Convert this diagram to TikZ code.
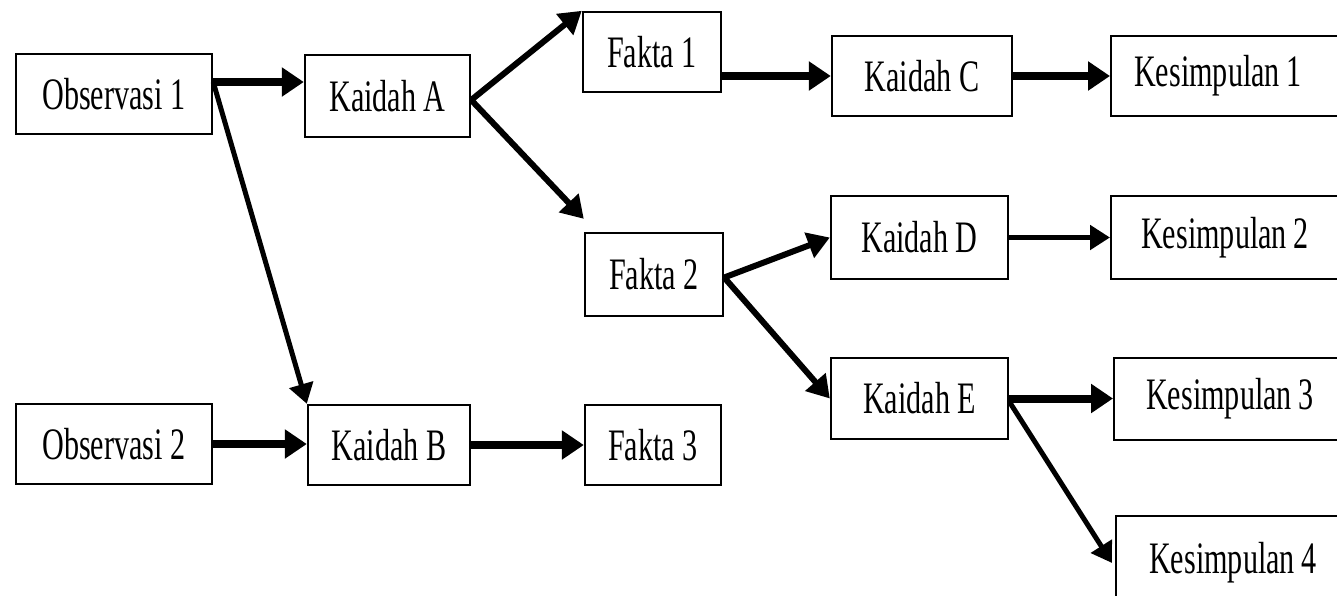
\documentclass[tikz,border=0pt]{standalone}
\usepackage{fontspec}
\setmainfont{Liberation Serif}[FakeStretch=0.67]
\usetikzlibrary{arrows.meta}
\newcommand{\tightline}[1]{\mbox{\spaceskip=6.5pt\relax #1}}
\begin{document}
\begin{tikzpicture}[x=1pt,y=-1pt,
  box/.style={draw,line width=2.4pt,rectangle,inner sep=0pt,
    font=\fontsize{45}{50}\selectfont},
  kbox/.style={box,anchor=west,align=left,text width=200pt},
  fatarrow/.style={line width=8pt,-{Triangle[length=22pt,width=28pt]}},
  midarrow/.style={line width=6pt,-{Triangle[length=22pt,width=26pt]}},
  thinarrow/.style={line width=5pt,-{Triangle[length=20pt,width=24pt]}}]
\useasboundingbox (0,0) rectangle (1337,595);
\begin{scope}
\clip (0,0) rectangle (1337,595);
% boxes
\node[box,minimum width=196pt,minimum height=80pt] (O1) at (114,94) {Observasi 1};
\node[box,minimum width=165pt,minimum height=82pt] (KA) at (387.5,96) {Kaidah A};
\node[box,minimum width=138pt,minimum height=80pt] (F1) at (652,52) {Fakta 1};
\node[box,minimum width=180pt,minimum height=80pt] (KC) at (922,76) {Kaidah C};
\node[kbox,minimum height=80pt,inner xsep=23pt] (K1) at (1110,76) {\tightline{Kesimpulan 1}};
\node[box,minimum width=138pt,minimum height=83pt] (F2) at (654,274.5) {Fakta 2};
\node[box,minimum width=177pt,minimum height=83pt] (KD) at (919.5,237.5) {Kaidah D};
\node[kbox,minimum height=83pt,inner xsep=30pt] (K2) at (1110,237.5) {\tightline{Kesimpulan 2}};
\node[box,minimum width=177pt,minimum height=81pt] (KE) at (919.5,398.5) {Kaidah E};
\node[kbox,minimum height=82pt,inner xsep=32pt] (K3) at (1113,399) {\tightline{Kesimpulan 3}};
\node[kbox,minimum height=94pt,inner xsep=33pt] (K4) at (1115,563) {\tightline{Kesimpulan 4}};
\node[box,minimum width=196pt,minimum height=80pt] (O2) at (114,444) {Observasi 2};
\node[box,minimum width=162pt,minimum height=80pt] (KB) at (389,445) {Kaidah B};
\node[box,minimum width=136pt,minimum height=80pt] (F3) at (653,445) {Fakta 3};
% connectors
\coordinate (o1s) at ([yshift=12pt]O1.east);
\draw[fatarrow] (o1s) -- (o1s -| KA.west);
\draw[thinarrow] (o1s) -- (KB.north west);
\draw[midarrow] ([yshift=-4pt]KA.east) -- (F1.north west);
\draw[midarrow] ([yshift=-4pt]KA.east) -- ([yshift=13pt]F2.north west);
\draw[fatarrow] (F1.east |- KC.west) -- (KC.west);
\draw[fatarrow] (KC.east) -- (KC.east -| K1.west);
\draw[midarrow] ([yshift=-3pt]F2.east) -- (KD.west);
\draw[midarrow] ([yshift=-3pt]F2.east) -- (KE.west);
\draw[thinarrow] (KD.east) -- (KD.east -| K2.west);
\draw[fatarrow] (KE.east) -- (KE.east -| K3.west);
\draw[thinarrow] ([yshift=-3pt]KE.east) -- ([xshift=-3pt]K4.west);
\draw[fatarrow] (O2.east) -- (O2.east -| KB.west);
\draw[fatarrow] (KB.east) -- (KB.east -| F3.west);
\end{scope}
\end{tikzpicture}
\end{document}
